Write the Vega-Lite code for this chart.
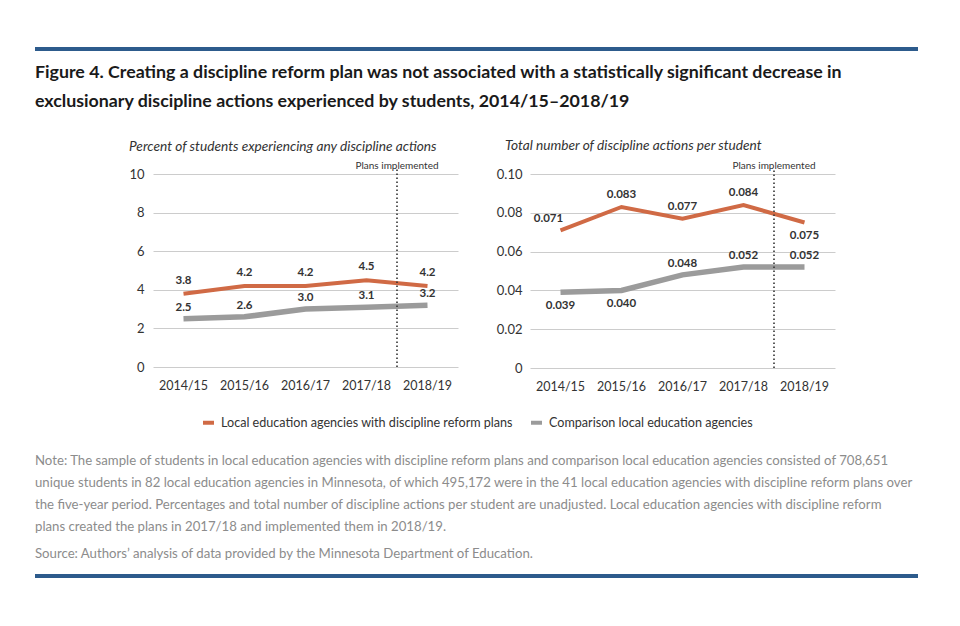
{
  "$schema": "https://vega.github.io/schema/vega-lite/v6.json",
  "background": "white",
  "padding": {"left": 35, "top": 43, "right": 10, "bottom": 10},
  "config": {
    "font": "Lato",
    "view": {"stroke": null},
    "axis": {"labelFontSize": 13, "labelColor": "#333333", "ticks": false, "domain": false, "title": null},
    "legend": {"layout": {"bottom": {"anchor": "middle", "bounds": "flush"}}}
  },
  "datasets": {
    "pct": [
      {"year": "2014/15", "series": "Local education agencies with discipline reform plans", "value": 3.8},
      {"year": "2015/16", "series": "Local education agencies with discipline reform plans", "value": 4.2},
      {"year": "2016/17", "series": "Local education agencies with discipline reform plans", "value": 4.2},
      {"year": "2017/18", "series": "Local education agencies with discipline reform plans", "value": 4.5},
      {"year": "2018/19", "series": "Local education agencies with discipline reform plans", "value": 4.2},
      {"year": "2014/15", "series": "Comparison local education agencies", "value": 2.5},
      {"year": "2015/16", "series": "Comparison local education agencies", "value": 2.6},
      {"year": "2016/17", "series": "Comparison local education agencies", "value": 3.0},
      {"year": "2017/18", "series": "Comparison local education agencies", "value": 3.1},
      {"year": "2018/19", "series": "Comparison local education agencies", "value": 3.2}
    ],
    "rate": [
      {"year": "2014/15", "series": "Local education agencies with discipline reform plans", "value": 0.071},
      {"year": "2015/16", "series": "Local education agencies with discipline reform plans", "value": 0.083},
      {"year": "2016/17", "series": "Local education agencies with discipline reform plans", "value": 0.077},
      {"year": "2017/18", "series": "Local education agencies with discipline reform plans", "value": 0.084},
      {"year": "2018/19", "series": "Local education agencies with discipline reform plans", "value": 0.075},
      {"year": "2014/15", "series": "Comparison local education agencies", "value": 0.039},
      {"year": "2015/16", "series": "Comparison local education agencies", "value": 0.040},
      {"year": "2016/17", "series": "Comparison local education agencies", "value": 0.048},
      {"year": "2017/18", "series": "Comparison local education agencies", "value": 0.052},
      {"year": "2018/19", "series": "Comparison local education agencies", "value": 0.052}
    ],
    "blank": [{"t": ""}]
  },
  "spacing": 28,
  "resolve": {"scale": {"color": "independent"}, "legend": {"color": "independent"}},
  "vconcat": [
    {
      "width": 883,
      "height": 4,
      "view": {"fill": "#2d5b8c", "stroke": null},
      "data": {"name": "blank"},
      "mark": {"type": "text"},
      "encoding": {"text": {"field": "t"}},
      "title": {
        "text": ["Figure 4. Creating a discipline reform plan was not associated with a statistically significant decrease in", "exclusionary discipline actions experienced by students, 2014/15–2018/19"],
        "orient": "bottom", "anchor": "start", "offset": 10, "fontSize": 17.8, "fontWeight": "bold",
        "lineHeight": 29, "color": "#1a1a1a"
      }
    },
    {
      "spacing": 2,
      "resolve": {"scale": {"color": "independent"}, "legend": {"color": "independent"}},
      "vconcat": [
        {
          "spacing": 38,
          "hconcat": [
            {
              "width": 55,
              "height": 1,
              "data": {"name": "blank"},
              "mark": {"type": "text"},
              "encoding": {"text": {"field": "t"}}
            },
            {
              "width": 305,
              "height": 193,
              "title": {"text": "Percent of students experiencing any discipline actions", "anchor": "start", "frame": "group", "dx": -24, "fontStyle": "italic", "fontWeight": "normal", "fontSize": 13.7, "color": "#333333", "offset": 8},
              "data": {"name": "pct"},
              "encoding": {
                "x": {"field": "year", "type": "ordinal", "title": null, "scale": {"type": "band", "paddingInner": 0, "paddingOuter": 0}, "axis": {"labelAngle": 0, "labelPadding": 12, "labelFontSize": 12.5, "grid": false}},
                "y": {"field": "value", "type": "quantitative", "title": null, "scale": {"domain": [0, 10], "nice": false}, "axis": {"values": [0, 2, 4, 6, 8, 10], "grid": true, "gridColor": "#cccccc", "labelPadding": 9}}
              },
              "layer": [
                {
                  "transform": [{"filter": "datum.series == 'Comparison local education agencies'"}],
                  "mark": {"type": "line", "strokeWidth": 5.5},
                  "encoding": {"color": {"field": "series", "type": "nominal", "scale": {"domain": ["Local education agencies with discipline reform plans", "Comparison local education agencies"], "range": ["#d06a45", "#9b9b9b"]}, "legend": null}}
                },
                {
                  "transform": [{"filter": "datum.series == 'Local education agencies with discipline reform plans'"}],
                  "mark": {"type": "line", "strokeWidth": 4},
                  "encoding": {"color": {"field": "series", "type": "nominal", "legend": null}}
                },
                {
                  "transform": [{"filter": "datum.series == 'Local education agencies with discipline reform plans'"}],
                  "mark": {"type": "text", "dy": -13, "fontSize": 11.5, "fontWeight": "bold", "color": "#333333"},
                  "encoding": {"text": {"field": "value", "type": "quantitative", "format": ".1f"}}
                },
                {
                  "transform": [{"filter": "datum.series == 'Comparison local education agencies'"}],
                  "mark": {"type": "text", "dy": -11, "fontSize": 11.5, "fontWeight": "bold", "color": "#333333"},
                  "encoding": {"text": {"field": "value", "type": "quantitative", "format": ".1f"}}
                },
                {
                  "transform": [{"filter": "datum.year == '2018/19' && datum.series == 'Comparison local education agencies'"}],
                  "mark": {"type": "rule", "strokeDash": [1.5, 2.5], "strokeWidth": 1.6, "color": "#333333"},
                  "encoding": {"x": {"field": "year", "type": "ordinal", "bandPosition": 0}, "y": {"datum": 0}, "y2": {"datum": 10.3}}
                },
                {
                  "transform": [{"filter": "datum.year == '2018/19' && datum.series == 'Comparison local education agencies'"}],
                  "mark": {"type": "text", "baseline": "alphabetic", "dy": 1, "fontSize": 10, "color": "#333333"},
                  "encoding": {"x": {"field": "year", "type": "ordinal", "bandPosition": 0}, "y": {"datum": 10.3}, "text": {"value": "Plans implemented"}}
                }
              ]
            },
            {
              "width": 305,
              "height": 194,
              "title": {"text": "Total number of discipline actions per student", "anchor": "start", "frame": "group", "dx": -25, "fontStyle": "italic", "fontWeight": "normal", "fontSize": 13.7, "color": "#333333", "offset": 8},
              "data": {"name": "rate"},
              "encoding": {
                "x": {"field": "year", "type": "ordinal", "title": null, "scale": {"type": "band", "paddingInner": 0, "paddingOuter": 0}, "axis": {"labelAngle": 0, "labelPadding": 12, "labelFontSize": 12.5, "grid": false}},
                "y": {"field": "value", "type": "quantitative", "title": null, "scale": {"domain": [0, 0.1], "nice": false}, "axis": {"values": [0, 0.02, 0.04, 0.06, 0.08, 0.1], "labelExpr": "datum.value == 0 ? '0' : format(datum.value, '.2f')", "grid": true, "gridColor": "#cccccc", "labelPadding": 8}}
              },
              "layer": [
                {
                  "transform": [{"filter": "datum.series == 'Comparison local education agencies'"}],
                  "mark": {"type": "line", "strokeWidth": 5.5},
                  "encoding": {"color": {"field": "series", "type": "nominal", "legend": null}}
                },
                {
                  "transform": [{"filter": "datum.series == 'Local education agencies with discipline reform plans'"}],
                  "mark": {"type": "line", "strokeWidth": 4},
                  "encoding": {"color": {"field": "series", "type": "nominal", "legend": null}}
                },
                {
                  "transform": [{"filter": "datum.series == 'Local education agencies with discipline reform plans' && datum.year != '2014/15' && datum.year != '2018/19'"}],
                  "mark": {"type": "text", "dy": -12, "fontSize": 11.5, "fontWeight": "bold", "color": "#333333"},
                  "encoding": {"text": {"field": "value", "type": "quantitative", "format": ".3f"}}
                },
                {
                  "transform": [{"filter": "datum.series == 'Local education agencies with discipline reform plans' && datum.year == '2014/15'"}],
                  "mark": {"type": "text", "dy": -11, "dx": -12, "fontSize": 11.5, "fontWeight": "bold", "color": "#333333"},
                  "encoding": {"text": {"field": "value", "type": "quantitative", "format": ".3f"}}
                },
                {
                  "transform": [{"filter": "datum.series == 'Local education agencies with discipline reform plans' && datum.year == '2018/19'"}],
                  "mark": {"type": "text", "dy": 13, "fontSize": 11.5, "fontWeight": "bold", "color": "#333333"},
                  "encoding": {"text": {"field": "value", "type": "quantitative", "format": ".3f"}}
                },
                {
                  "transform": [{"filter": "datum.series == 'Comparison local education agencies' && datum.year != '2014/15' && datum.year != '2015/16'"}],
                  "mark": {"type": "text", "dy": -11, "fontSize": 11.5, "fontWeight": "bold", "color": "#333333"},
                  "encoding": {"text": {"field": "value", "type": "quantitative", "format": ".3f"}}
                },
                {
                  "transform": [{"filter": "datum.series == 'Comparison local education agencies' && (datum.year == '2014/15' || datum.year == '2015/16')"}],
                  "mark": {"type": "text", "dy": 14, "fontSize": 11.5, "fontWeight": "bold", "color": "#333333"},
                  "encoding": {"text": {"field": "value", "type": "quantitative", "format": ".3f"}}
                },
                {
                  "transform": [{"filter": "datum.year == '2018/19' && datum.series == 'Comparison local education agencies'"}],
                  "mark": {"type": "rule", "strokeDash": [1.5, 2.5], "strokeWidth": 1.6, "color": "#333333"},
                  "encoding": {"x": {"field": "year", "type": "ordinal", "bandPosition": 0}, "y": {"datum": 0}, "y2": {"datum": 0.103}}
                },
                {
                  "transform": [{"filter": "datum.year == '2018/19' && datum.series == 'Comparison local education agencies'"}],
                  "mark": {"type": "text", "baseline": "alphabetic", "dy": 1, "fontSize": 10, "color": "#333333"},
                  "encoding": {"x": {"field": "year", "type": "ordinal", "bandPosition": 0}, "y": {"datum": 0.103}, "text": {"value": "Plans implemented"}}
                }
              ]
            }
          ]
        },
        {
          "spacing": 22,
          "resolve": {"scale": {"color": "independent"}, "legend": {"color": "independent"}},
          "vconcat": [
            {
              "width": 883,
              "height": 0,
              "data": {"name": "pct"},
              "transform": [{"filter": "false"}],
              "mark": {"type": "line"},
              "encoding": {
                "color": {"field": "series", "type": "nominal",
                  "scale": {"domain": ["Local education agencies with discipline reform plans", "Comparison local education agencies"], "range": ["#d06a45", "#9b9b9b"]},
                  "legend": {"orient": "bottom", "title": null, "direction": "horizontal", "symbolType": "stroke", "symbolStrokeWidth": 4, "symbolSize": 121, "labelFontSize": 12.6, "labelColor": "#333333", "offset": 0, "columnPadding": 10, "labelOffset": 5, "labelLimit": 500}}
              }
            },
            {
              "width": 883,
              "height": 4,
              "view": {"fill": "#2d5b8c", "stroke": null},
              "data": {"name": "blank"},
              "mark": {"type": "text"},
              "encoding": {"text": {"field": "t"}},
              "title": {
                "text": [
                  "Note: The sample of students in local education agencies with discipline reform plans and comparison local education agencies consisted of 708,651",
                  "unique students in 82 local education agencies in Minnesota, of which 495,172 were in the 41 local education agencies with discipline reform plans over",
                  "the five-year period. Percentages and total number of discipline actions per student are unadjusted. Local education agencies with discipline reform",
                  "plans created the plans in 2017/18 and implemented them in 2018/19."
                ],
                "subtitle": "Source: Authors’ analysis of data provided by the Minnesota Department of Education.",
                "orient": "top", "anchor": "start", "offset": 9, "fontSize": 13.2, "fontWeight": "normal",
                "color": "#8c8c8c", "lineHeight": 22,
                "subtitleFontSize": 13.2, "subtitleColor": "#8c8c8c", "subtitlePadding": 14, "subtitleLineHeight": 22
              }
            }
          ]
        }
      ]
    }
  ]
}
